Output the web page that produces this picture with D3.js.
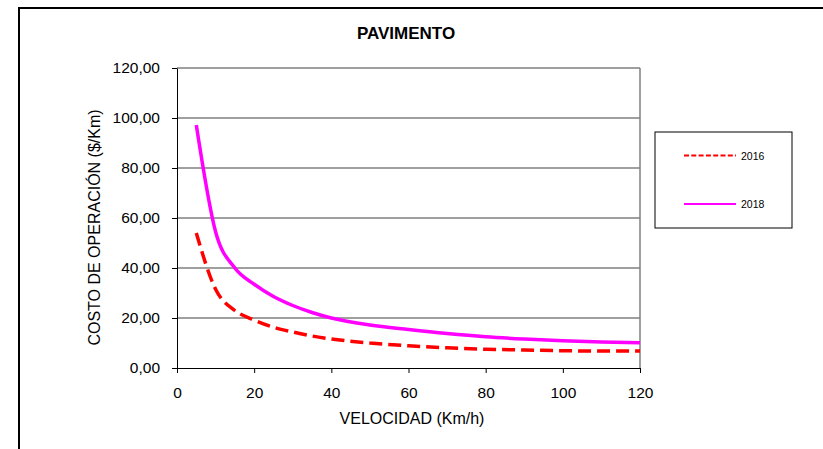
<!DOCTYPE html>
<html>
<head>
<meta charset="utf-8">
<script src="https://cdn.jsdelivr.net/npm/d3@7"></script>
<style>
  html, body { margin: 0; padding: 0; background: #fff; }
  svg { display: block; font-family: "Liberation Sans", Arial, sans-serif; }
</style>
</head>
<body>
<svg id="chart" width="823" height="449"></svg>
<script>
// ---- data ----
const speeds = [5, 10, 15, 20, 25, 30, 35, 40, 50, 60, 70, 80, 90, 100, 110, 120];
const cost2016 = [54.0, 31.5, 23.0, 19.2, 16.3, 14.4, 12.8, 11.6, 10.0, 8.9, 8.1, 7.5, 7.2, 6.9, 6.8, 6.8];
const cost2018 = [97.2, 54.5, 40.0, 33.5, 28.6, 25.0, 22.2, 20.0, 17.2, 15.4, 13.8, 12.5, 11.6, 10.9, 10.4, 10.1];
const seriesNames = ["2016", "2018"];
const xTicks = [0, 20, 40, 60, 80, 100, 120];
const yTicks = [0, 20, 40, 60, 80, 100, 120];
const titleText = "PAVIMENTO";
const xTitle = "VELOCIDAD (Km/h)";
const yTitle = "COSTO DE OPERACIÓN ($/Km)";

// ---- layout ----
const svg = d3.select("#chart");
const plot = { left: 177, right: 640, top: 68, bottom: 368 };

const x = d3.scaleLinear().domain([0, 120]).range([plot.left, plot.right]);
const y = d3.scaleLinear().domain([0, 120]).range([plot.bottom, plot.top]);

// outer frame (top and left edges visible)
svg.append("path")
  .attr("d", `M19,449 L19,8 L823,8`)
  .attr("fill", "none").attr("stroke", "#000").attr("stroke-width", 2);

// title
svg.append("text")
  .attr("x", 406).attr("y", 39)
  .attr("text-anchor", "middle")
  .attr("font-size", 17).attr("font-weight", "bold")
  .text(titleText);

// gridlines
svg.append("g").selectAll("line")
  .data(yTicks.filter(d => d > 0))
  .join("line")
  .attr("x1", plot.left).attr("x2", plot.right)
  .attr("y1", d => y(d)).attr("y2", d => y(d))
  .attr("stroke", "#7f7f7f").attr("stroke-width", 1.5);

// right border of plot
svg.append("line")
  .attr("x1", plot.right).attr("x2", plot.right)
  .attr("y1", plot.top).attr("y2", plot.bottom)
  .attr("stroke", "#7f7f7f").attr("stroke-width", 1.5);

const fmtY = d => d3.format(".2f")(d).replace(".", ",");

// axes
const yAxis = svg.append("g")
  .attr("transform", `translate(${plot.left},0)`)
  .call(d3.axisLeft(y).tickValues(yTicks).tickFormat(fmtY).tickSize(5).tickSizeOuter(0).tickPadding(12));
const xAxis = svg.append("g")
  .attr("transform", `translate(0,${plot.bottom})`)
  .call(d3.axisBottom(x).tickValues(xTicks).tickFormat(d3.format("d")).tickSize(5).tickSizeOuter(0).tickPadding(14));
[yAxis, xAxis].forEach(g => {
  g.selectAll("text").attr("font-size", 15.5).attr("fill", "#000")
    .attr("font-family", "'Liberation Sans', Arial, sans-serif");
  g.selectAll("line").attr("stroke", "#000");
  g.select(".domain").attr("stroke", "#000");
});

// axis titles
svg.append("text")
  .attr("x", 412).attr("y", 424)
  .attr("text-anchor", "middle").attr("font-size", 16)
  .text(xTitle);
svg.append("text")
  .attr("transform", "translate(100,227.5) rotate(-90)")
  .attr("text-anchor", "middle").attr("font-size", 16)
  .text(yTitle);

// lines
const line = d3.line().x(d => x(d[0])).y(d => y(d[1])).curve(d3.curveMonotoneX);
const s2016 = speeds.map((s, i) => [s, cost2016[i]]);
const s2018 = speeds.map((s, i) => [s, cost2018[i]]);

svg.append("path").datum(s2018)
  .attr("d", line).attr("fill", "none")
  .attr("stroke", "#ff00ff").attr("stroke-width", 3.5);
svg.append("path").datum(s2016)
  .attr("d", line).attr("fill", "none")
  .attr("stroke", "#ff0000").attr("stroke-width", 3.5)
  .attr("stroke-dasharray", "13,6");

// legend
const lg = svg.append("g");
lg.append("rect")
  .attr("x", 655).attr("y", 132).attr("width", 137).attr("height", 96)
  .attr("fill", "#fff").attr("stroke", "#000").attr("stroke-width", 1);
const legendItems = [
  { name: seriesNames[0], color: "#ff0000", dash: "5,2.3", y: 155.5 },
  { name: seriesNames[1], color: "#ff00ff", dash: null, y: 204 }
];
legendItems.forEach(it => {
  lg.append("line")
    .attr("x1", 684).attr("x2", 736).attr("y1", it.y).attr("y2", it.y)
    .attr("stroke", it.color).attr("stroke-width", 1.8)
    .attr("stroke-dasharray", it.dash);
  lg.append("text")
    .attr("x", 741).attr("y", it.y + 4)
    .attr("font-size", 10.5).attr("fill", "#000")
    .text(it.name);
});
</script>
</body>
</html>
